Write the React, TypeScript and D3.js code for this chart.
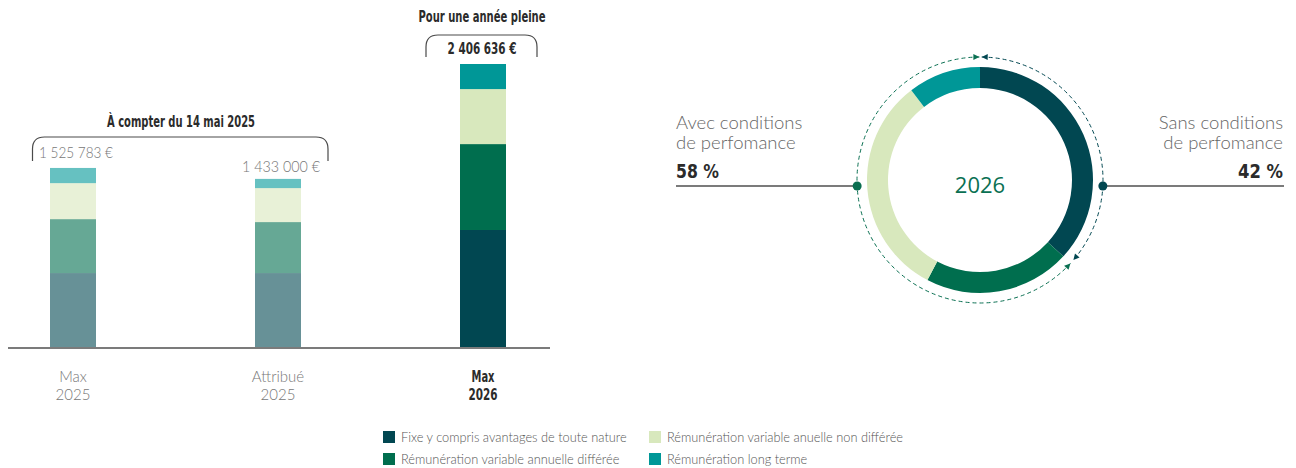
import React from "react";
import * as d3 from "d3";

const categories = ["Max 2025", "Attribué 2025", "Max 2026"];
const categoryLine1 = ["Max", "Attribué", "Max"];
const categoryLine2 = ["2025", "2025", "2026"];
const seriesNames = [
  "Fixe y compris avantages de toute nature",
  "Rémunération variable annuelle différée",
  "Rémunération variable anuelle non différée",
  "Rémunération long terme",
];
const fixe = [635000, 635000, 1000000];
const variableDifferee = [457000, 432000, 728000];
const variableNonDifferee = [305000, 288000, 466000];
const longTerme = [128783, 78000, 212636];
const totalLabels = ["1 525 783 €", "1 433 000 €", "2 406 636 €"];
const groupTitles = ["À compter du 14 mai 2025", "Pour une année pleine"];
const donutShares = [36.8, 20.9, 31.9, 10.4];
const performanceLabels = ["Avec conditions", "Sans conditions"];
const performanceSub = "de perfomance";
const performanceValues = [58, 42];
const centerLabel = "2026";

const COLORS = ["#014751", "#006e4e", "#d8e8bd", "#009797"];
const LIGHT = "'Lato', 'Open Sans', sans-serif";
const COND = "'DejaVu Sans Condensed', 'DejaVu Sans', sans-serif";

export default function App() {
  const W = 1296, H = 468;
  const baseY = 348, topY = 64;
  const keys = ["fixe", "diff", "nondiff", "lt"];
  const rows = categories.map((c, i) => ({
    cat: c,
    fixe: fixe[i],
    diff: variableDifferee[i],
    nondiff: variableNonDifferee[i],
    lt: longTerme[i],
  }));
  const totals = rows.map((r) => r.fixe + r.diff + r.nondiff + r.lt);
  const x = d3.scalePoint<string>().domain(categories).range([73, 483]);
  const y = d3.scaleLinear().domain([0, d3.max(totals) as number]).range([baseY, topY]);
  const stack = d3.stack<any>().keys(keys)(rows);
  const bw = 46;

  // donut
  const cx = 980, cy = 180;
  const pie = d3.pie<number>().sort(null).value((d) => d)(donutShares);
  const arc = d3.arc<any>().innerRadius(92).outerRadius(113);
  const rDash = 123;
  const deg = Math.PI / 180;
  const arcPath = (a0: number, a1: number) => {
    const p = d3.path();
    p.arc(cx, cy, rDash, (a0 - 90) * deg, (a1 - 90) * deg, false);
    return p.toString();
  };
  const arrow = (theta: number, clockwise: boolean) => {
    const t = theta * deg;
    const px = cx + rDash * Math.sin(t), py = cy - rDash * Math.cos(t);
    let dx = Math.cos(t), dy = Math.sin(t);
    if (!clockwise) { dx = -dx; dy = -dy; }
    const L = 6, hw = 3;
    const bx = px - dx * L, by = py - dy * L;
    return `M${px},${py}L${bx - dy * hw},${by + dx * hw}L${bx + dy * hw},${by - dx * hw}Z`;
  };
  const lineY = 186;
  const dxDot = Math.sqrt(rDash * rDash - (lineY - cy) ** 2);

  const bracket = (x0: number, x1: number, yTop: number, yBot: number, r: number) =>
    `M${x0},${yBot}V${yTop + r}Q${x0},${yTop} ${x0 + r},${yTop}H${x1 - r}Q${x1},${yTop} ${x1},${yTop + r}V${yBot}`;

  const legendX = [383, 649];
  const legendY = [431, 453];
  const boldLens1 = [23, 0, 23];
  const boldLens2 = [29, 0, 29];

  return (
    <svg width={W} height={H} style={{ position: "absolute", left: 0, top: 0, background: "#fff" }}>
      {/* bars */}
      {stack.map((s, si) => (
        <g key={si}>
          {s.map((d, i) => (
            <rect
              key={i}
              x={(x(categories[i]) as number) - bw / 2}
              y={y(d[1])}
              width={bw}
              height={y(d[0]) - y(d[1])}
              fill={COLORS[si]}
              fillOpacity={i < 2 ? 0.6 : 1}
            />
          ))}
        </g>
      ))}
      <line x1={8} x2={550} y1={baseY} y2={baseY} stroke="#7b7b7b" strokeWidth={2} />
      {categories.map((c, i) =>
        i === 2 ? (
          <g key={c} fontFamily={COND} fontWeight={700} fill="#2b2b2b" fontSize={15} textAnchor="middle">
            <text x={x(c)} y={381.5} textLength={boldLens1[i]} lengthAdjust="spacingAndGlyphs">{categoryLine1[i]}</text>
            <text x={x(c)} y={400} textLength={boldLens2[i]} lengthAdjust="spacingAndGlyphs">{categoryLine2[i]}</text>
          </g>
        ) : (
          <g key={c} fontFamily={LIGHT} fontWeight={300} fill="#777" fontSize={15} textAnchor="middle">
            <text x={x(c)} y={381.5}>{categoryLine1[i]}</text>
            <text x={x(c)} y={400}>{categoryLine2[i]}</text>
          </g>
        )
      )}
      {/* group 2025 */}
      <text x={181} y={127} textAnchor="middle" fontFamily={COND} fontWeight={700} fontSize={15} fill="#2b2b2b" textLength={148} lengthAdjust="spacingAndGlyphs">{groupTitles[0]}</text>
      <path d={bracket((x(categories[0]) as number) - 40.5, (x(categories[1]) as number) + 50, 137, 161, 12)} fill="none" stroke="#4a4a4a" strokeWidth={1.2} />
      <text x={39} y={158} fontFamily={LIGHT} fontWeight={300} fontSize={15} fill="#777" textLength={74} lengthAdjust="spacingAndGlyphs">{totalLabels[0]}</text>
      <text x={320} y={172} textAnchor="end" fontFamily={LIGHT} fontWeight={300} fontSize={15} fill="#777" textLength={78} lengthAdjust="spacingAndGlyphs">{totalLabels[1]}</text>
      {/* group 2026 */}
      <text x={482} y={22} textAnchor="middle" fontFamily={COND} fontWeight={700} fontSize={15} fill="#2b2b2b" textLength={127} lengthAdjust="spacingAndGlyphs">{groupTitles[1]}</text>
      <path d={bracket((x(categories[2]) as number) - 57, (x(categories[2]) as number) + 54, 35, 57, 12)} fill="none" stroke="#4a4a4a" strokeWidth={1.2} />
      <text x={482} y={54} textAnchor="middle" fontFamily={COND} fontWeight={700} fontSize={15} fill="#2b2b2b" textLength={69} lengthAdjust="spacingAndGlyphs">{totalLabels[2]}</text>

      {/* donut */}
      {pie.map((p, i) => (
        <path key={i} d={arc(p) as string} transform={`translate(${cx},${cy})`} fill={COLORS[i]} />
      ))}
      <text x={cx} y={193} textAnchor="middle" fontFamily="'Open Sans', sans-serif" fontSize={22} fill="#0a7052">{centerLabel}</text>
      <path d={arcPath(0.8, 130.6)} fill="none" stroke="#014751" strokeWidth={1} strokeDasharray="4 3" />
      <path d={arcPath(132.7, 359.7)} fill="none" stroke="#0a7052" strokeWidth={1} strokeDasharray="4 3" />
      <path d={arrow(0.8, false)} fill="#014751" />
      <path d={arrow(130.6, true)} fill="#014751" />
      <path d={arrow(132.7, false)} fill="#0a7052" />
      <path d={arrow(359.7, true)} fill="#0a7052" />
      <line x1={676} x2={cx - dxDot} y1={lineY} y2={lineY} stroke="#7b7b7b" strokeWidth={2} />
      <line x1={cx + dxDot} x2={1284} y1={lineY} y2={lineY} stroke="#7b7b7b" strokeWidth={2} />
      <circle cx={cx - dxDot} cy={lineY} r={4.5} fill="#0a6e50" />
      <circle cx={cx + dxDot} cy={lineY} r={4.5} fill="#014751" />
      <g fontFamily={LIGHT} fontWeight={300} fontSize={18.5} fill="#666">
        <text x={676} y={129}>{performanceLabels[0]}</text>
        <text x={676} y={149}>{performanceSub}</text>
        <text x={1283} y={129} textAnchor="end">{performanceLabels[1]}</text>
        <text x={1283} y={149} textAnchor="end">{performanceSub}</text>
      </g>
      <g fontFamily={COND} fontWeight={700} fontSize={20} fill="#2b2b2b">
        <text x={676} y={178} textLength={43} lengthAdjust="spacingAndGlyphs">{performanceValues[0]} %</text>
        <text x={1283} y={178} textAnchor="end" textLength={45} lengthAdjust="spacingAndGlyphs">{performanceValues[1]} %</text>
      </g>

      {/* legend */}
      {seriesNames.map((n, i) => {
        const col = Math.floor(i / 2), row = i % 2;
        return (
          <g key={n}>
            <rect x={legendX[col]} y={legendY[row]} width={12} height={12} fill={COLORS[i]} />
            <text x={legendX[col] + 18} y={legendY[row] + 10.5} fontFamily={LIGHT} fontWeight={300} fontSize={12.8} fill="#555">{n}</text>
          </g>
        );
      })}
    </svg>
  );
}
